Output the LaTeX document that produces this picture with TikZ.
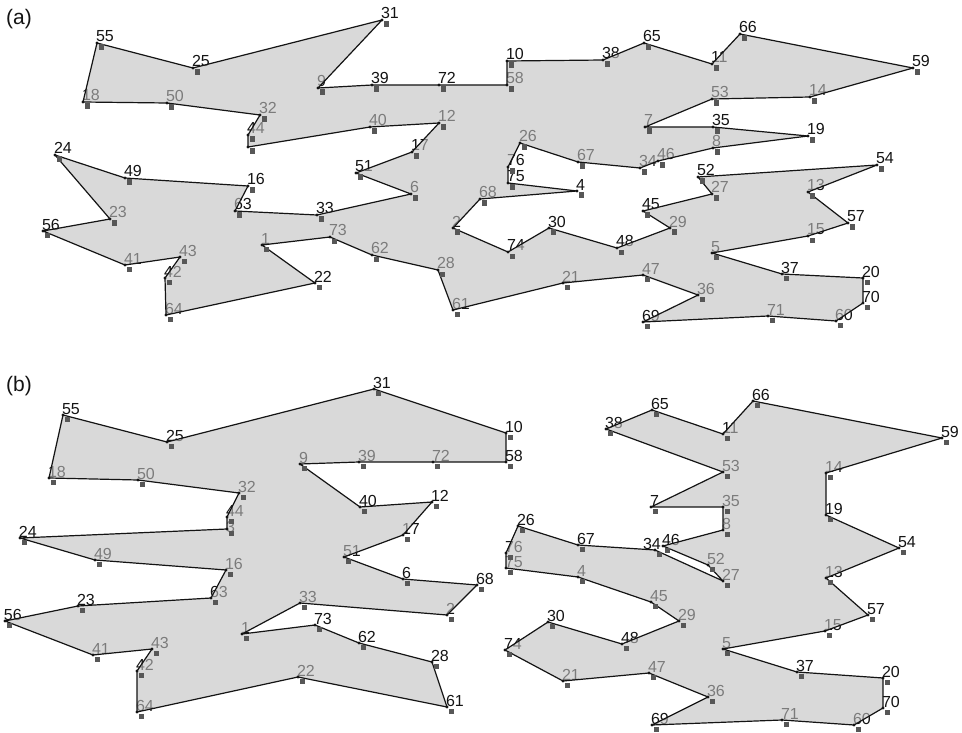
\documentclass[tikz,border=0pt]{standalone}
\usepackage{fontspec}
\setmainfont{Liberation Sans}
\definecolor{regionfill}{gray}{0.757}
\definecolor{markgray}{gray}{0.34}
\definecolor{ink}{gray}{0.08}
\tikzset{
  lab/.style={anchor=base west, inner sep=0pt, outer sep=0pt,
    font=\fontsize{16}{16}\selectfont, text=ink, xshift=-1pt, yshift=1pt},
  region/.style={fill=regionfill, fill opacity=0.6, draw=ink,
    line width=1.2pt, line join=round},
  mk/.style={fill=markgray},
  vdot/.style={fill=ink},
  tag/.style={anchor=base west, inner sep=0pt, text=ink,
    font=\fontsize{21}{21}\selectfont}
}
\begin{document}
\begin{tikzpicture}[x=1pt,y=-1pt]
\useasboundingbox (0,0) rectangle (962,733);
\fill[white] (0,0) rectangle (962,733);

% ---------- vertices of the layout (a)
\foreach \n/\x/\y in {
  1/262/245, 2/453/228, 3/248/147, 4/577/191, 5/712/253, 6/411/194,
  7/645/127, 8/713/148, 9/318/88, 10/507/61, 11/712/64, 12/439/123,
  13/808/192, 14/810/97, 15/808/236, 16/248/186, 17/412/152, 18/83/102,
  19/808/136, 20/863/278, 21/563/283, 22/315/283, 23/110/219, 24/55/155,
  25/193/68, 26/520/143, 27/712/194, 28/438/270, 29/670/228, 30/549/228,
  31/382/20, 32/260/115, 33/317/215, 34/640/168, 35/713/127, 36/698/295,
  37/782/274, 38/603/60, 39/372/85, 40/370/127, 41/125/265, 42/165/278,
  43/180/257, 44/248/135, 45/643/211, 46/658/161, 47/643/275, 48/617/248,
  49/125/178, 50/167/103, 51/356/173, 52/698/177, 53/712/99, 54/877/165,
  55/97/43, 56/43/231, 57/848/223, 58/507/85, 59/913/68, 60/836/321,
  61/453/310, 62/372/255, 63/235/211, 64/166/315, 65/644/43, 66/740/34,
  67/578/162, 68/480/199, 69/643/322, 70/863/303, 71/768/316, 72/439/85,
  73/330/237, 74/508/252, 75/508/183, 76/508/167}
  \coordinate (a\n) at (\x,\y);

% ---------- vertices of the layout (b)
\foreach \n/\x/\y in {
  1/242/634, 2/447/615, 3/227/529, 4/578/577, 5/723/649, 6/403/579,
  7/651/507, 8/723/530, 9/300/464, 10/506/433, 11/723/434, 12/432/502,
  13/826/578, 14/826/473, 15/825/631, 16/226/570, 17/403/535, 18/49/478,
  19/826/515, 20/883/678, 21/563/681, 22/298/677, 23/78/606, 24/20/538,
  25/167/442, 26/518/526, 27/723/581, 28/432/662, 29/679/621, 30/548/622,
  31/374/389, 32/239/493, 33/300/603, 34/655/550, 35/723/507, 36/708/697,
  37/797/672, 38/606/429, 39/359/462, 40/360/507, 41/93/655, 42/137/671,
  43/152/649, 44/227/517, 45/651/602, 46/663/546, 47/649/673, 48/622/644,
  49/95/560, 50/138/480, 51/344/557, 52/708/565, 53/723/472, 54/899/548,
  55/63/415, 56/5/621, 57/868/615, 58/506/462, 59/942/438, 60/854/725,
  61/447/707, 62/359/643, 63/211/598, 64/137/712, 65/652/410, 66/753/401,
  67/578/545, 68/477/585, 69/652/725, 70/883/708, 71/782/720, 72/433/462,
  73/315/625, 74/505/650, 75/506/568, 76/506/553}
  \coordinate (b\n) at (\x,\y);

% ---------- point numbers (set first, so the shaded regions tone them down)
\foreach \n in {1,2,4,5,...,76}
  \node[lab] (la\n) at (a\n) {\n};
\foreach \n in {1,2,4,5,...,33,35,36,...,76}
  \node[lab] (lb\n) at (b\n) {\n};
% crowded spots: numbers nudged apart a little
\node[lab, yshift=-4pt] (lb3) at (b3) {3};
\node[lab, xshift=-11pt] (lb34) at (b34) {34};

\node[tag] (taga) at (6,25) {(a)};
\node[tag] (tagb) at (6,391) {(b)};

% ---------- region (a)
\path[region] (a55) -- (a25) -- (a31) -- (a9) -- (a39) -- (a72) -- (a58)
  -- (a10) -- (a38) -- (a65) -- (a11) -- (a66) -- (a59) -- (a14) -- (a53)
  -- (a7) -- (a35) -- (a19) -- (a8) -- (a46) -- (a34) -- (a67) -- (a26)
  -- (a76) -- (a75) -- (a4) -- (a68) -- (a2) -- (a74) -- (a30) -- (a48)
  -- (a29) -- (a45) -- (a27) -- (a52) -- (a54) -- (a13) -- (a57) -- (a15)
  -- (a5) -- (a37) -- (a20) -- (a70) -- (a60) -- (a71) -- (a69) -- (a36)
  -- (a47) -- (a21) -- (a61) -- (a28) -- (a62) -- (a73) -- (a1) -- (a22)
  -- (a64) -- (a42) -- (a43) -- (a41) -- (a56) -- (a23) -- (a24) -- (a49)
  -- (a16) -- (a63) -- (a33) -- (a6) -- (a51) -- (a17) -- (a12) -- (a40)
  -- (a3) -- (a44) -- (a32) -- (a50) -- (a18) -- cycle;

% ---------- regions (b)
\path[region] (b55) -- (b25) -- (b31) -- (b10) -- (b58) -- (b72) -- (b39)
  -- (b9) -- (b40) -- (b12) -- (b17) -- (b51) -- (b6) -- (b68) -- (b2)
  -- (b33) -- (b1) -- (b73) -- (b62) -- (b28) -- (b61) -- (b22) -- (b64)
  -- (b42) -- (b43) -- (b41) -- (b56) -- (b23) -- (b63) -- (b16) -- (b49)
  -- (b24) -- (b3) -- (b44) -- (b32) -- (b50) -- (b18) -- cycle;

\path[region] (b38) -- (b65) -- (b11) -- (b66) -- (b59) -- (b14) -- (b19)
  -- (b54) -- (b13) -- (b57) -- (b15) -- (b5) -- (b37) -- (b20) -- (b70)
  -- (b60) -- (b71) -- (b69) -- (b36) -- (b47) -- (b21) -- (b74) -- (b30)
  -- (b48) -- (b29) -- (b45) -- (b4) -- (b75) -- (b76) -- (b26) -- (b67)
  -- (b34) -- (b27) -- (b52) -- (b46) -- (b8) -- (b35) -- (b7) -- (b53)
  -- cycle;

% ---------- point markers and vertex dots
\foreach \p in {a,b}
  \foreach \n in {1,...,76} {
    \fill[mk] ([shift={(1.5,1.5)}]\p\n) rectangle ++(5.5,5.5);
    \fill[vdot] (\p\n) circle (1.7);
  }
\end{tikzpicture}
\end{document}
